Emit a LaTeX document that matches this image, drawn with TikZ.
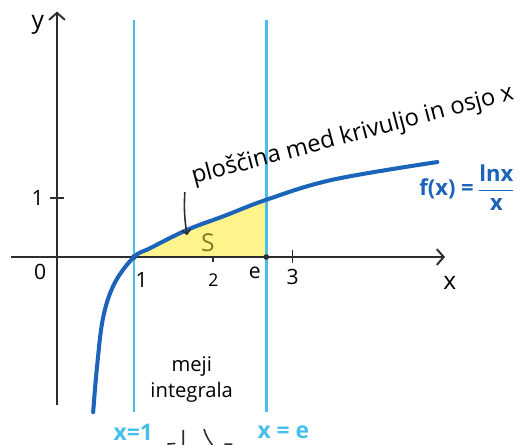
\documentclass[tikz,border=0pt]{standalone}
\usepackage{amsmath}
\usepackage{fontspec}
\setmainfont{Open Sans}
\usetikzlibrary{arrows.meta,calc,positioning}
\definecolor{curveblue}{RGB}{28,100,185}
\definecolor{limitblue}{RGB}{72,190,235}
\definecolor{areayellow}{RGB}{255,244,140}
\definecolor{areaolive}{RGB}{135,120,35}
\definecolor{axisgray}{RGB}{45,45,45}

\begin{document}
\begin{tikzpicture}[x=1.54cm, y=1.18cm,
    axis/.style={draw=axisgray, line width=1.1pt, -{Straight Barb[length=4pt,width=9pt]}},
    limit/.style={draw=limitblue, line width=1.5pt},
    graph/.style={draw=curveblue, line width=2.3pt, line cap=round},
    tick/.style={draw=axisgray, line width=1pt},
    lbl/.style={font=\fontsize{12}{14}\selectfont, inner sep=1pt},
    bluelbl/.style={font=\bfseries\fontsize{13}{15}\selectfont, text=limitblue, inner sep=1pt}
  ]
  \useasboundingbox (-0.740,-3.186) rectangle (6.065,4.356);

  % area S under the curve
  \begin{scope}
    \clip (1,0) rectangle (2.718,2);
    \fill[areayellow] plot[smooth, tension=0.6] coordinates {(0.47,-2.63) (0.52,-1.86) (0.60,-1.02) (0.75,-0.44) (1,0) (1.21,0.15) (1.69,0.46) (2.18,0.70) (2.718,0.97) (3.58,1.31) (4.94,1.61)} -- (4.94,0) -- (0.47,0) -- cycle;
  \end{scope}

  % axes
  \coordinate (xstart) at (-0.60,0);
  \coordinate (xend) at (5.04,0);
  \coordinate (ystart) at (0,-2.51);
  \coordinate (yend) at (0,4.16);
  \draw[axis] (xstart) -- (xend);
  \draw[axis] (ystart) -- (yend);
  \draw[tick] (2.03,0) -- (2.03,-0.09);
  \draw[tick] (3.06,-0.10) -- (3.06,0.12);
  \draw[tick] (-0.09,1) -- (0.09,1);

  % limits of integration
  \coordinate (lowtop) at (1,4.02);
  \coordinate (lowbot) at (1,-2.63);
  \coordinate (uptop) at (2.718,4.02);
  \coordinate (upbot) at (2.718,-2.63);
  \draw[limit] (lowtop) -- (lowbot);
  \draw[limit] (uptop) -- (upbot);
  \fill[axisgray] (1,0) circle (1.6pt) (2.718,0) circle (1.6pt);

  % the curve
  \draw[graph] plot[smooth, tension=0.6] coordinates {(0.47,-2.63) (0.52,-1.86) (0.60,-1.02) (0.75,-0.44) (1,0) (1.21,0.15) (1.69,0.46) (2.18,0.70) (2.718,0.97) (3.58,1.31) (4.94,1.61)};

  % labels
  \node[lbl, font=\fontsize{14}{16}\selectfont] (ylbl) at (-0.25,3.93) {y};
  \node[lbl, font=\fontsize{14}{16}\selectfont] (xlbl) at (5.10,-0.44) {x};
  \node[lbl] (origin) at (-0.22,-0.25) {0};
  \node[lbl] (one) at (1.10,-0.39) {1};
  \node[lbl, font=\fontsize{10}{12}\selectfont] (two) at (2.03,-0.39) {2};
  \node[lbl] (euler) at (2.57,-0.27) {e};
  \node[lbl] (three) at (3.06,-0.34) {3};
  \node[lbl] (yone) at (-0.25,1) {1};
  \node[lbl, text=areaolive, font=\fontsize{14}{16}\selectfont] (area) at (1.96,0.25) {S};

  \node[lbl, rotate=14.8, font=\fontsize{13.5}{16}\selectfont] (arealbl) at (3.84,2.06) {ploščina med krivuljo in osjo x};
  \coordinate (arrowtail) at (1.66,1.10);
  \coordinate (arrowtip) at (1.69,0.37);
  \draw[axisgray, line width=0.9pt, -{Straight Barb[length=2.5pt,width=5pt]}] (arrowtail) to[bend right=6] (arrowtip);

  \node[lbl, text=curveblue, font=\bfseries\fontsize{12.5}{14}\selectfont] (flbl) at (5.33,1.18) {f(x) =\,$\dfrac{\text{lnx}}{\text{x}}$};

  \node[lbl, font=\fontsize{11.5}{13}\selectfont] (meji) at (1.75,-1.86) {meji};
  \node[lbl, font=\fontsize{11.5}{13}\selectfont, below=1pt of meji] (integrala) {integrala};
  \node[bluelbl] (lowlbl) at (0.99,-2.97) {x=1};
  \node[bluelbl] (uplbl) at (2.94,-2.97) {x = e};

  % brace, cut off at the bottom
  \draw[axisgray, line width=0.9pt, line cap=round] (1.44,-3.17) -- (1.53,-3.16) (1.64,-3.19) -- (1.64,-2.94);
  \draw[axisgray, line width=0.9pt, line cap=round] (1.91,-2.92) to[bend right=10] (2.02,-3.19) (2.18,-3.17) -- (2.27,-3.17);
\end{tikzpicture}
\end{document}
